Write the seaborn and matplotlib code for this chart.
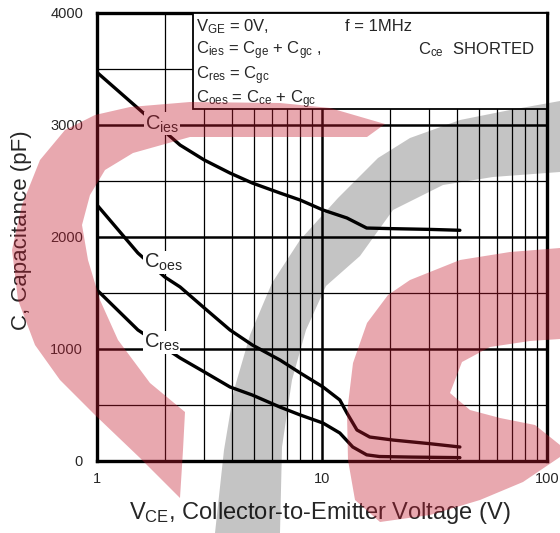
import numpy as np
import seaborn as sns
import matplotlib.pyplot as plt
from matplotlib.ticker import LogLocator, MultipleLocator, NullFormatter
from matplotlib.patches import Polygon, Rectangle

# capacitance vs V_CE
vce_ies = [1, 1.52, 2.34, 3.0, 3.9, 4.9, 6.5, 8.0, 10.1, 12.9, 15.8, 20, 30, 41]
cap_ies = [3470, 3150, 2821, 2687, 2571, 2482, 2393, 2330, 2241, 2170, 2080, 2075, 2068, 2060]

vce_oes = [1, 1.52, 2.0, 2.34, 3.0, 3.9, 4.9, 6.5, 8.0, 10.1, 12.0, 12.9, 14.3, 16.3, 20.7, 30, 41]
cap_oes = [2286, 1857, 1643, 1554, 1366, 1170, 1036, 902, 786, 661, 545, 429, 277, 214, 187, 155, 125]

vce_res = [1, 1.52, 2.34, 3.0, 3.9, 4.9, 6.5, 8.0, 10.1, 12.0, 13.7, 15.8, 18, 25, 41]
cap_res = [1527, 1170, 920, 795, 661, 589, 482, 411, 339, 250, 125, 55, 40, 35, 30]

curve_names = ['ies', 'oes', 'res']
label_vce = [1.95, 1.97, 1.94]
label_cap = [3010, 1770, 1060]

x_ticks = [1, 10, 100]
x_ticklabels = ['1', '10', '100']

W, H = 560, 533


def fig_xy(x, y):
    # pixel position (top-left origin) -> figure fraction
    return x / W, 1 - y / H


sns.set_style('white')
plt.rcParams['font.family'] = ['Liberation Sans', 'DejaVu Sans']
plt.rcParams['mathtext.fontset'] = 'custom'
plt.rcParams['mathtext.rm'] = 'Liberation Sans'
plt.rcParams['mathtext.it'] = 'Liberation Sans:italic'
plt.rcParams['mathtext.default'] = 'regular'

fig = plt.figure(figsize=(W / 100, H / 100), dpi=100)
ax = fig.add_axes([97 / W, 1 - 461 / H, 450 / W, 448 / H])

for v, c in [(vce_ies, cap_ies), (vce_oes, cap_oes), (vce_res, cap_res)]:
    sns.lineplot(x=v, y=c, sort=False, estimator=None, color='black', lw=2.4, ax=ax)

ax.set_xscale('log')
ax.set_xlim(1, 100)
ax.set_ylim(0, 4000)
ax.set_xticks(x_ticks, labels=x_ticklabels)
ax.xaxis.set_minor_locator(LogLocator(base=10, subs=np.arange(2, 10)))
ax.xaxis.set_minor_formatter(NullFormatter())
ax.yaxis.set_major_locator(MultipleLocator(1000))
ax.yaxis.set_minor_locator(MultipleLocator(500))
ax.grid(which='major', color='black', lw=1.8)
ax.grid(which='minor', color='black', lw=0.9)
ax.tick_params(which='both', length=0)
ax.tick_params(axis='x', pad=8, labelsize=10.5)
ax.tick_params(axis='y', pad=10, labelsize=10.5)
for s in ax.spines.values():
    s.set_linewidth(2.4)
    s.set_color('black')

for name, lv, lc in zip(curve_names, label_vce, label_cap):
    ax.text(lv, lc, 'C$_{' + name + '}$', ha='center', va='center', fontsize=14.5,
            bbox=dict(fc='white', ec='none', pad=0.6), zorder=3)

# conditions box
ax.add_patch(Rectangle(((193 - 97) / 450, (461 - 109) / 448), (547 - 193) / 450, 96 / 448,
                       transform=ax.transAxes, fc='white', ec='black', lw=1.3, zorder=4, clip_on=False))
box_fs = 12
fig.text(*fig_xy(196, 31), r'V$_{GE}$ = 0V,', fontsize=box_fs, va='baseline', zorder=5)
fig.text(*fig_xy(345, 31), 'f = 1MHz', fontsize=box_fs, va='baseline', zorder=5)
fig.text(*fig_xy(196, 54), r'C$_{ies}$ = C$_{ge}$ + C$_{gc}$ ,', fontsize=box_fs, va='baseline', zorder=5)
fig.text(*fig_xy(418, 54), r'C$_{ce}$  SHORTED', fontsize=box_fs, va='baseline', zorder=5)
fig.text(*fig_xy(196, 79), r'C$_{res}$ = C$_{gc}$', fontsize=box_fs, va='baseline', zorder=5)
fig.text(*fig_xy(196, 103), r'C$_{oes}$ = C$_{ce}$ + C$_{gc}$', fontsize=box_fs, va='baseline', zorder=5)

# axis titles
fig.text(*fig_xy(320, 513), r'V$_{CE}$, Collector-to-Emitter Voltage (V)', fontsize=17,
         ha='center', va='center')
fig.text(*fig_xy(22, 230), 'C, Capacitance (pF)', fontsize=16, rotation=90,
         ha='center', va='center')

# watermark shapes (decoration, pixel outlines)
red_left = [(385, 124), (330, 108), (280, 103), (190, 102), (130, 107), (95, 115), (65, 130),
            (40, 160), (22, 205), (12, 250), (18, 300), (35, 345), (60, 380), (95, 415),
            (140, 458), (180, 498), (183, 450), (185, 412), (150, 383), (118, 340), (100, 300),
            (88, 260), (82, 225), (90, 195), (105, 170), (133, 153), (190, 137), (280, 137),
            (367, 137)]
red_right = [(560, 248), (510, 252), (460, 260), (410, 280), (388, 295), (367, 323), (353, 363),
             (347, 413), (348, 460), (355, 500), (380, 522), (430, 515), (480, 500), (523, 482),
             (560, 457), (560, 445), (535, 425), (500, 418), (470, 410), (450, 393), (462, 362),
             (490, 347), (530, 341), (560, 339)]
gray_band = [(560, 101), (510, 110), (460, 120), (410, 138), (378, 158), (338, 198), (300, 240),
             (272, 283), (250, 335), (234, 390), (224, 450), (215, 533), (280, 533), (282, 447),
             (292, 380), (306, 330), (326, 286), (360, 256), (393, 210), (443, 185), (493, 177),
             (560, 172)]
for pts, col, a in [(red_left, '#C31A2F', 0.38), (red_right, '#C31A2F', 0.38), (gray_band, 'black', 0.23)]:
    fig.add_artist(Polygon([fig_xy(x, y) for x, y in pts], closed=True, transform=fig.transFigure,
                           fc=col, ec='none', alpha=a, zorder=20))

fig.savefig('out.png', dpi=100)
